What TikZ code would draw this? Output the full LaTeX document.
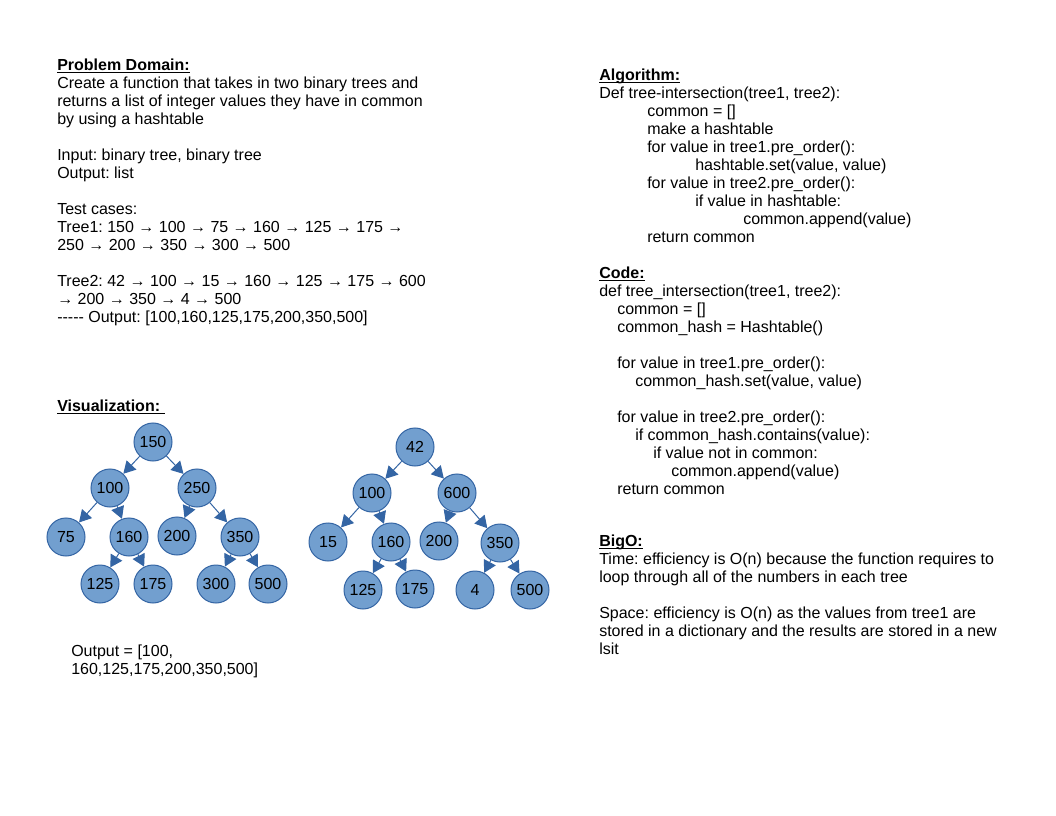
\documentclass[tikz,border=0pt]{standalone}
\usepackage{fontspec}
\setmainfont{Liberation Sans}
\usetikzlibrary{arrows.meta}
\definecolor{nodeblue}{HTML}{729FCF}
\definecolor{edgeblue}{HTML}{3465A4}
\tikzset{
  treenode/.style={circle, draw=edgeblue, fill=nodeblue, line width=0.75pt,
    minimum size=28.5pt, inner sep=0pt, font=\fontsize{12}{13.5}\selectfont},
  treeedge/.style={draw=edgeblue, line width=0.75pt, -{Triangle[width=10pt,length=9pt]}},
  textblock/.style={anchor=north west, inner sep=0pt, align=left,
    font=\fontsize{12}{13.5}\selectfont},
}
\newcommand{\heading}[1]{\underline{\raisebox{0pt}[\height][0pt]{\textbf{#1}}}}
\frenchspacing
\begin{document}
\begin{tikzpicture}[x=0.75pt, y=-0.75pt]
\useasboundingbox (0,0) rectangle (1056,816);
\fill[white] (0,0) rectangle (1056,816);
% Left column
\node[textblock] (domain) at (57,59) {\heading{Problem Domain:}\\
Create a function that takes in two binary trees and\\
returns a list of integer values they have in common\\
by using a hashtable\\[13.5pt]
Input: binary tree, binary tree\\
Output: list\\[13.5pt]
Test cases:\\
Tree1: 150 → 100 → 75 → 160 → 125 → 175 →\\
250 → 200 → 350 → 300 → 500\\[13.5pt]
Tree2: 42 → 100 → 15 → 160 → 125 → 175 → 600\\
→ 200 → 350 → 4 → 500\\
-{}-{}-{}-{}- Output: [100,160,125,175,200,350,500]};
\node[textblock] (visual) at (57,400) {\heading{Visualization:~}};
\node[textblock] (output) at (71,645) {Output = [100,\\160,125,175,200,350,500]};
% Right column
\node[textblock] (algo) at (599,69) {\heading{Algorithm:}\\
Def tree-intersection(tree1, tree2):\\
\hspace*{36pt}common = []\\
\hspace*{36pt}make a hashtable\\
\hspace*{36pt}for value in tree1.pre\_order():\\
\hspace*{72pt}hashtable.set(value, value)\\
\hspace*{36pt}for value in tree2.pre\_order():\\
\hspace*{72pt}if value in hashtable:\\
\hspace*{108pt}common.append(value)\\
\hspace*{36pt}return common\\[13.5pt]
\heading{Code:}\\
def tree\_intersection(tree1, tree2):\\
\hspace*{13.5pt}common = []\\
\hspace*{13.5pt}common\_hash = Hashtable()\\[13.5pt]
\hspace*{13.5pt}for value in tree1.pre\_order():\\
\hspace*{27pt}common\_hash.set(value, value)\\[13.5pt]
\hspace*{13.5pt}for value in tree2.pre\_order():\\
\hspace*{27pt}if common\_hash.contains(value):\\
\hspace*{40.5pt}if value not in common:\\
\hspace*{54pt}common.append(value)\\
\hspace*{13.5pt}return common};
\node[textblock] (bigo) at (599,535) {\heading{BigO:}\\
Time: efficiency is O(n) because the function requires to\\
loop through all of the numbers in each tree\\[13.5pt]
Space: efficiency is O(n) as the values from tree1 are\\
stored in a dictionary and the results are stored in a new\\
lsit};
% Tree 1
\node[treenode] (a150) at (153,442) {150};
\node[treenode] (a100) at (110,488) {100};
\node[treenode] (a250) at (197,488) {250};
\node[treenode] (a75) at (66,537) {75};
\node[treenode] (a160) at (129,537) {160};
\node[treenode] (a200) at (177,536) {200};
\node[treenode] (a350) at (240,537) {350};
\node[treenode] (a125) at (100,584) {125};
\node[treenode] (a175) at (153,584) {175};
\node[treenode] (a300) at (216,584) {300};
\node[treenode] (a500) at (268,584) {500};
\draw[treeedge] (a150) -- (a100);
\draw[treeedge] (a150) -- (a250);
\draw[treeedge] (a100) -- (a75);
\draw[treeedge] (a100) -- (a160);
\draw[treeedge] (a250) -- (a200);
\draw[treeedge] (a250) -- (a350);
\draw[treeedge] (a160) -- (a125);
\draw[treeedge] (a160) -- (a175);
\draw[treeedge] (a350) -- (a300);
\draw[treeedge] (a350) -- (a500);
% Tree 2
\node[treenode] (b42) at (415,447) {42};
\node[treenode] (b100) at (372,493) {100};
\node[treenode] (b600) at (457,493) {600};
\node[treenode] (b15) at (328,542) {15};
\node[treenode] (b160) at (391,542) {160};
\node[treenode] (b200) at (439,541) {200};
\node[treenode] (b350) at (500,543) {350};
\node[treenode] (b125) at (363,590) {125};
\node[treenode] (b175) at (415,589) {175};
\node[treenode] (b4) at (475,590) {4};
\node[treenode] (b500) at (530,590) {500};
\draw[treeedge] (b42) -- (b100);
\draw[treeedge] (b42) -- (b600);
\draw[treeedge] (b100) -- (b15);
\draw[treeedge] (b100) -- (b160);
\draw[treeedge] (b600) -- (b200);
\draw[treeedge] (b600) -- (b350);
\draw[treeedge] (b160) -- (b125);
\draw[treeedge] (b160) -- (b175);
\draw[treeedge] (b350) -- (b4);
\draw[treeedge] (b350) -- (b500);
\end{tikzpicture}
\end{document}
